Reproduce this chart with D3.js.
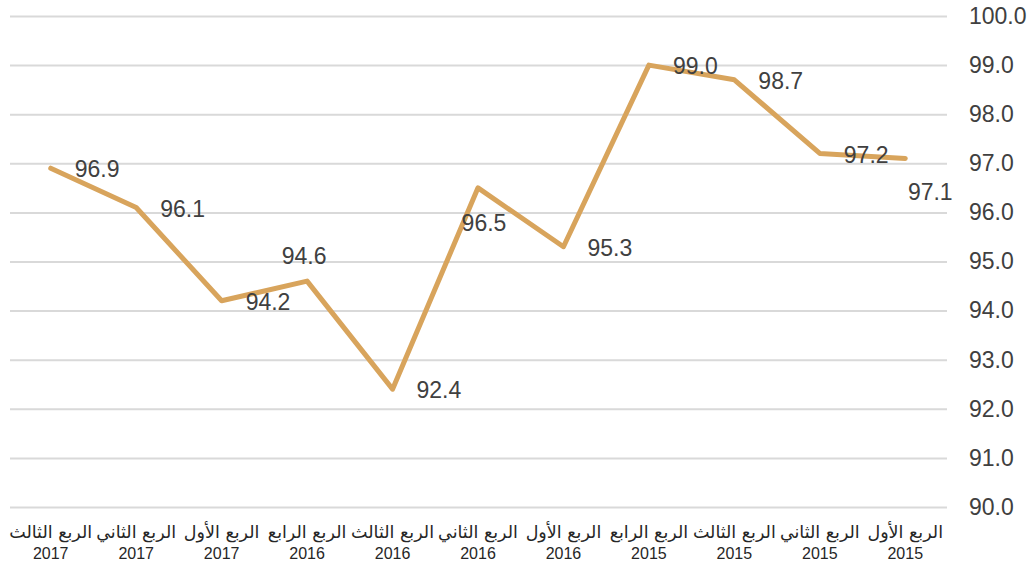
<!DOCTYPE html>
<html>
<head>
<meta charset="utf-8">
<script src="https://cdn.jsdelivr.net/npm/d3@7"></script>
<style>
  body { margin: 0; background: #fff; }
  svg { display: block; }
</style>
</head>
<body>
<div id="chart"></div>
<script>
var width = 1036;
var height = 564;

// categories in time order (drawn right to left)
var quarters = ["الربع الأول", "الربع الثاني", "الربع الثالث", "الربع الرابع",
                "الربع الأول", "الربع الثاني", "الربع الثالث", "الربع الرابع",
                "الربع الأول", "الربع الثاني", "الربع الثالث"];
var years = ["2015", "2015", "2015", "2015", "2016", "2016", "2016", "2016", "2017", "2017", "2017"];
var values = [97.1, 97.2, 98.7, 99.0, 95.3, 96.5, 92.4, 94.6, 94.2, 96.1, 96.9];
var yTicks = [90, 91, 92, 93, 94, 95, 96, 97, 98, 99, 100];
// where each value label sits next to its point
var labelPos = ["below", "right", "right", "right", "right", "under", "right", "above", "right", "right", "right"];

var keys = years.map(function(d, i) { return i; });

var svg = d3.select("#chart")
	.append("svg")
		.attr("width", width)
		.attr("height", height);

var x = d3.scalePoint()
	.domain(keys)
	.range([948, 8])
	.padding(0.5);

var y = d3.scaleLinear()
	.domain([90, 100])
	.range([507, 16]);

// gridlines
var grid = svg.append("g")
	.attr("transform", "translate(10,0)")
	.call(d3.axisRight(y).tickValues(yTicks).tickSize(937).tickFormat(""));
grid.select(".domain").remove();
grid.selectAll("line").attr("stroke", "#d9d9d9").attr("stroke-width", 2);

// y labels on the right
var yAxis = svg.append("g")
	.attr("transform", "translate(969,0)")
	.call(d3.axisRight(y).tickValues(yTicks).tickSize(0).tickPadding(0).tickFormat(d3.format(".1f")));
yAxis.select(".domain").remove();
yAxis.selectAll("text")
	.attr("fill", "#404040")
	.style("font-family", "'Liberation Sans', Arial, sans-serif")
	.style("font-size", "23px");

// category labels
var cat = svg.append("g").selectAll("text")
	.data(keys)
	.enter()
		.append("text")
			.attr("text-anchor", "middle")
			.attr("fill", "#262626");
cat.append("tspan")
	.attr("x", function(d) { return x(d); })
	.attr("y", 538)
	.style("font-family", "'DejaVu Sans', sans-serif")
	.style("font-size", "17.5px")
	.text(function(d) { return quarters[d]; });
cat.append("tspan")
	.attr("x", function(d) { return x(d); })
	.attr("y", 559)
	.style("font-family", "'Liberation Sans', Arial, sans-serif")
	.style("font-size", "16px")
	.text(function(d) { return years[d]; });

// the line
var line = d3.line()
	.x(function(d) { return x(d); })
	.y(function(d) { return y(values[d]); });

svg.append("path")
	.datum(keys)
	.attr("d", line)
	.attr("fill", "none")
	.attr("stroke", "#d8a45c")
	.attr("stroke-width", 5)
	.attr("stroke-linejoin", "round")
	.attr("stroke-linecap", "round");

// value labels
var off = {
	right: {dx: 24, dy: 1, anchor: "start"},
	above: {dx: -3, dy: -25, anchor: "middle"},
	under: {dx: 6, dy: 35, anchor: "middle"},
	below: {dx: 25, dy: 34, anchor: "middle"}
};

svg.append("g").selectAll("text")
	.data(keys)
	.enter()
		.append("text")
			.attr("x", function(d) { return x(d) + off[labelPos[d]].dx; })
			.attr("y", function(d) { return y(values[d]) + off[labelPos[d]].dy; })
			.attr("dy", "0.35em")
			.attr("text-anchor", function(d) { return off[labelPos[d]].anchor; })
			.attr("fill", "#404040")
			.style("font-family", "'Liberation Sans', Arial, sans-serif")
			.style("font-size", "23px")
			.text(function(d) { return values[d].toFixed(1); });
</script>
</body>
</html>
